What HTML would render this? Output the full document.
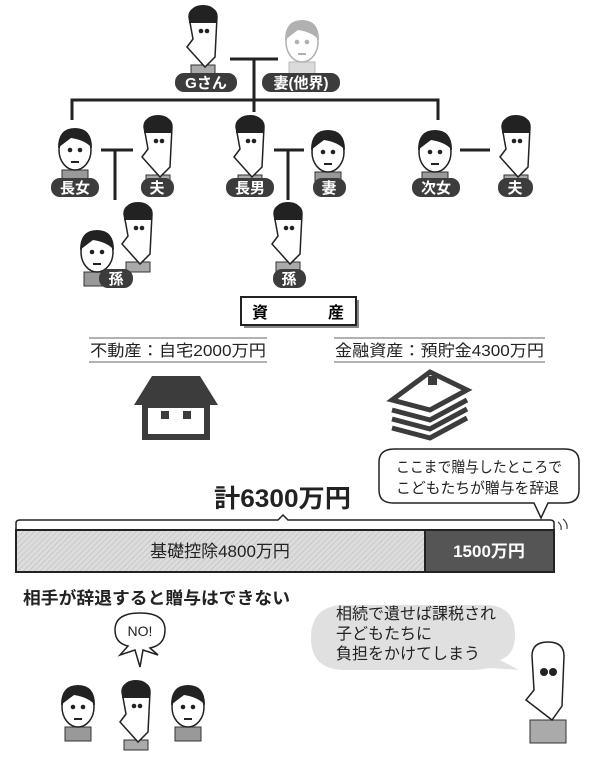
<!DOCTYPE html>
<html><head><meta charset="utf-8"><style>
body{margin:0;background:#fff}
svg{display:block}
text{font-family:"Liberation Sans","Noto Sans CJK JP",sans-serif}
</style></head><body>
<svg width="600" height="774" viewBox="0 0 600 774" xmlns="http://www.w3.org/2000/svg">
<defs>
<pattern id="hatch" width="4" height="4" patternUnits="userSpaceOnUse" patternTransform="rotate(45)"><rect width="4" height="4" fill="#dcdcdc"/><line x1="0" y1="0" x2="0" y2="4" stroke="#b8b8b8" stroke-width="1"/></pattern>
<g id="man"><rect x="-12" y="28" width="24" height="10" fill="#aaa" stroke="#333"/><path d="M-14 -20 Q-14 -30 0 -30 Q14 -30 14 -20 L12 20 L2 30 L-16 10 L-10 2 Z" fill="#fff" stroke="#222" stroke-width="1.5"/><path d="M-14 -18 Q-14 -32 0 -32 Q14 -32 14 -18 L14 -14 L-14 -14 Z" fill="#222"/><circle cx="-2" cy="-6" r="2.3" fill="#222"/><circle cx="4" cy="-6" r="2.3" fill="#222"/></g>
<g id="woman"><rect x="-13" y="22" width="26" height="14" fill="#999" stroke="#333"/><ellipse cx="0" cy="2" rx="16" ry="20" fill="#fff" stroke="#222" stroke-width="1.5"/><path d="M-17 0 Q-17 -20 0 -20 Q17 -20 17 0 Q10 -8 -4 -10 Q-12 -4 -17 0Z" fill="#222"/><circle cx="-5" cy="2" r="2.3" fill="#222"/><circle cx="5" cy="2" r="2.3" fill="#222"/><line x1="-4" y1="14" x2="4" y2="14" stroke="#222" stroke-width="2"/></g>
</defs>
<g stroke="#222" stroke-width="3" fill="none">
<path d="M230 59H278M254 59V112M72 120V100H438V120"/>
<path d="M101 150H133M115 150V200M274 150H304M288 150V200M460 150H490"/>
</g>
<use href="#man" x="203" y="37"/>
<g opacity="0.35"><use href="#woman" x="302" y="40"/></g>
<use href="#woman" x="75" y="148"/>
<use href="#man" x="158" y="147"/>
<use href="#man" x="250" y="147"/>
<use href="#woman" x="328" y="150"/>
<use href="#woman" x="435" y="150"/>
<use href="#man" x="516" y="147"/>
<use href="#woman" x="97" y="250"/>
<use href="#man" x="138" y="234"/>
<use href="#man" x="288" y="234"/>
<g fill="#3c3c3c">
<rect x="175" y="73" width="62" height="19" rx="9"/><rect x="262" y="73" width="78" height="19" rx="9"/>
<rect x="51" y="178" width="48" height="19" rx="9"/><rect x="141" y="178" width="33" height="19" rx="9"/>
<rect x="226" y="178" width="48" height="19" rx="9"/><rect x="313" y="178" width="33" height="19" rx="9"/>
<rect x="412" y="178" width="48" height="19" rx="9"/><rect x="498" y="178" width="35" height="19" rx="9"/>
<rect x="99" y="269" width="34" height="19" rx="9"/><rect x="273" y="269" width="33" height="19" rx="9"/>
</g>
<g fill="#fff" font-size="15" font-weight="bold" text-anchor="middle">
<text x="206" y="88">Gさん</text><text x="301" y="88">妻(他界)</text>
<text x="75" y="193">長女</text><text x="157" y="193">夫</text>
<text x="250" y="193">長男</text><text x="329" y="193">妻</text>
<text x="436" y="193">次女</text><text x="515" y="193">夫</text>
<text x="116" y="284">孫</text><text x="289" y="284">孫</text>
</g>
<rect x="244" y="300" width="115" height="28" fill="#888"/>
<rect x="241" y="297" width="115" height="28" fill="#fff" stroke="#222" stroke-width="2"/>
<text x="252" y="318" font-size="16" font-weight="bold">資</text>
<text x="328" y="318" font-size="16" font-weight="bold">産</text>
<g stroke="#999" stroke-width="1.5"><path d="M89 338H267M89 362H267M334 338H545M334 362H545"/></g>
<text x="90" y="356" font-size="16" fill="#222" textLength="176" lengthAdjust="spacingAndGlyphs">不動産：自宅2000万円</text>
<text x="335" y="356" font-size="16" fill="#222" textLength="209" lengthAdjust="spacingAndGlyphs">金融資産：預貯金4300万円</text>
<path d="M134 405 L152 376 L200 376 L218 405Z" fill="#3c3c3c"/>
<rect x="145" y="405" width="62" height="32" fill="#fff" stroke="#3c3c3c" stroke-width="6"/>
<rect x="161" y="411" width="8" height="8" fill="#3c3c3c"/><rect x="183" y="411" width="8" height="8" fill="#3c3c3c"/>
<g fill="#fff" stroke="#3c3c3c" stroke-width="5">
<path d="M392 428 L430 438 L467 418"/><path d="M392 419 L430 429 L467 409"/><path d="M392 410 L430 420 L467 400"/>
<path d="M392 400 L430 410 L467 390 L430 372 Z"/>
</g>
<rect x="428" y="376" width="9" height="9" fill="#3c3c3c"/>
<path d="M395 449 H565 Q579 449 579 462 V490 Q579 503 565 503 H548 L541 518 L534 503 H393 Q379 503 379 490 V462 Q379 449 395 449Z" fill="#fff" stroke="#222" stroke-width="1.5"/>
<text x="396" y="472" font-size="15" fill="#222" textLength="166" lengthAdjust="spacingAndGlyphs">ここまで贈与したところで</text>
<text x="396" y="493" font-size="15" fill="#222" textLength="163" lengthAdjust="spacingAndGlyphs">こどもたちが贈与を辞退</text>
<text x="214" y="507" font-size="25" font-weight="bold" fill="#222" textLength="137" lengthAdjust="spacingAndGlyphs">計6300万円</text>
<path d="M16 529 V523 Q16 520 20 520 H278 L283 515 L288 520 H550 Q554 520 554 523 V529" fill="none" stroke="#222" stroke-width="1.5"/>
<path d="M558 522 q4 3 3 8 M563 519 q5 4 4 10" fill="none" stroke="#444" stroke-width="1.2"/>
<rect x="16" y="530" width="409" height="42" fill="url(#hatch)" stroke="#222" stroke-width="2"/>
<rect x="425" y="530" width="129" height="42" fill="#555" stroke="#222" stroke-width="2"/>
<text x="220" y="557" font-size="17" fill="#222" text-anchor="middle">基礎控除4800万円</text>
<text x="489" y="557" font-size="17" fill="#fff" font-weight="bold" text-anchor="middle">1500万円</text>
<text x="23" y="604" font-size="17" font-weight="bold" fill="#222" textLength="267" lengthAdjust="spacingAndGlyphs">相手が辞退すると贈与はできない</text>
<path d="M140 613 Q165 613 165 630 Q165 645 150 648 L158 655 L143 650 L140 667 L135 650 L120 655 L128 646 Q115 643 115 630 Q115 613 140 613Z" fill="#fff" stroke="#222" stroke-width="1.5"/>
<text x="140" y="636" font-size="14" fill="#222" text-anchor="middle">NO!</text>
<path d="M345 605 H485 Q515 605 515 635 Q515 655 500 660 L519 670 L490 668 Q480 670 470 670 H345 Q311 670 311 638 Q311 605 345 605Z" fill="#e0e0e0"/>
<text x="336" y="619" font-size="16" fill="#222">相続で遺せば課税され</text>
<text x="336" y="639" font-size="16" fill="#222">子どもたちに</text>
<text x="336" y="659" font-size="16" fill="#222">負担をかけてしまう</text>
<use href="#woman" x="78" y="705"/>
<use href="#man" x="136" y="712"/>
<use href="#woman" x="188" y="705"/>
<g transform="translate(548,676)"><rect x="-18" y="44" width="36" height="23" fill="#aaa" stroke="#333"/><path d="M-16 -20 Q-16 -34 0 -34 Q16 -34 16 -20 L14 30 L4 44 L-22 24 L-14 14 Z" fill="#fff" stroke="#222" stroke-width="1.5"/><circle cx="-4" cy="-4" r="4" fill="#222"/><circle cx="5" cy="-4" r="4" fill="#222"/></g>
</svg>
</body></html>
